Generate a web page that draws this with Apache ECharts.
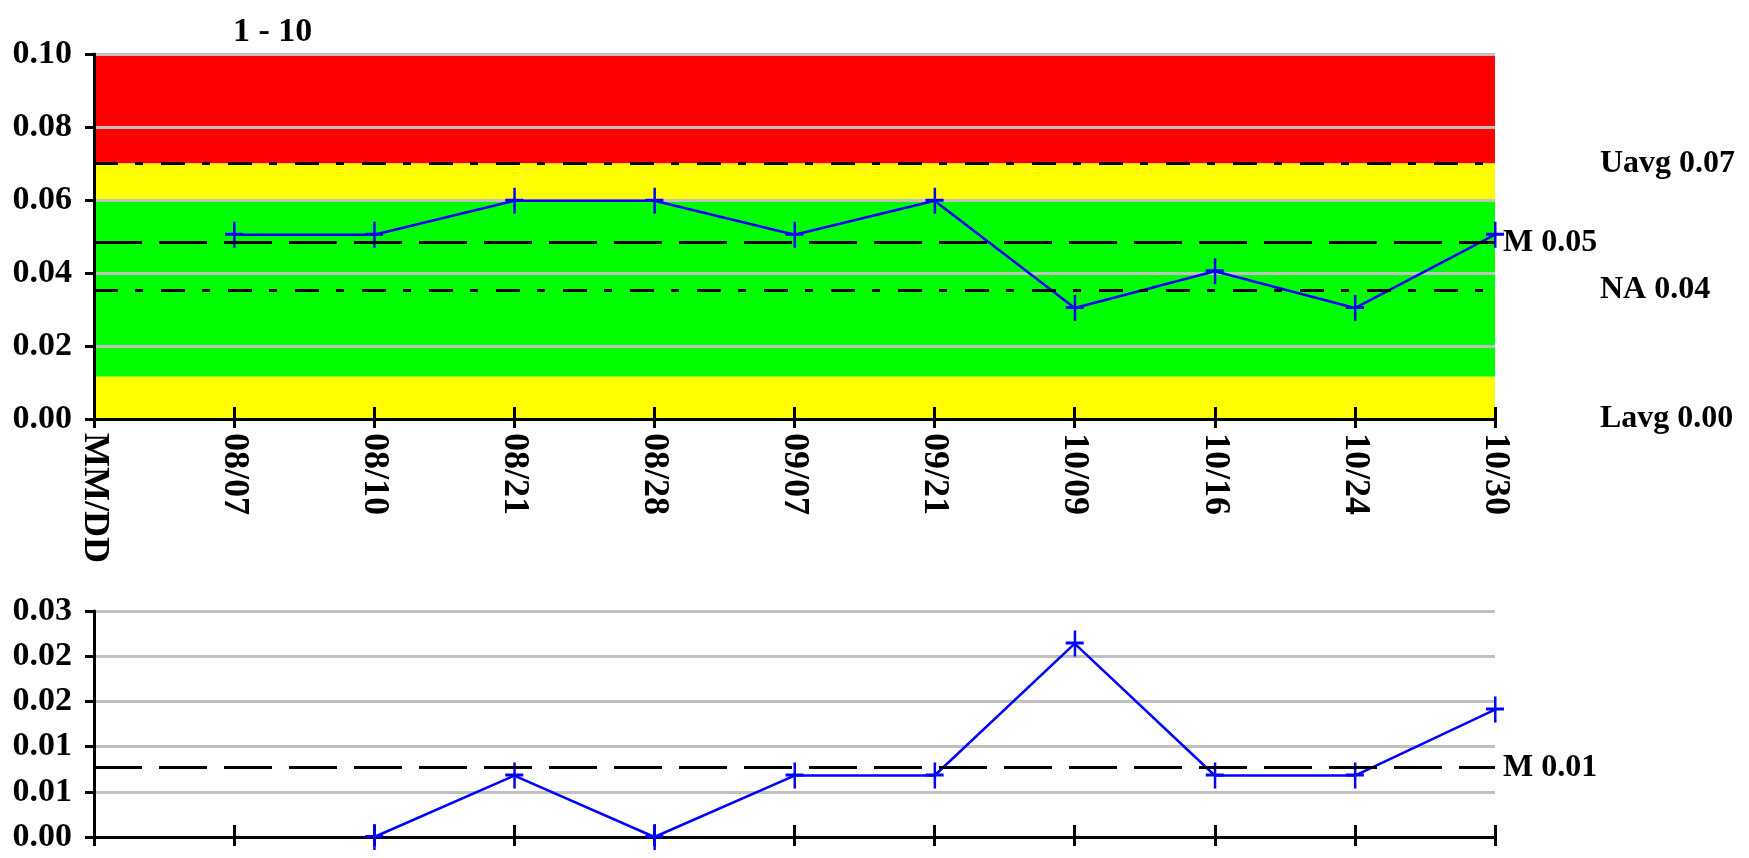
<!DOCTYPE html>
<html><head><meta charset="utf-8">
<script src="https://cdn.jsdelivr.net/npm/echarts@6/dist/echarts.min.js"></script>
<style>html,body{margin:0;padding:0;background:#fff}#c{width:1749px;height:858px}</style>
</head><body><div id="c"></div>
<script>
// ---- data ----
const categories = ['MM/DD','08/07','08/10','08/21','08/28','09/07','09/21','10/09','10/16','10/24','10/30'];
const avgValues = [null,0.0505,0.0505,0.0598,0.0598,0.0505,0.0598,0.0304,0.0405,0.0304,0.0505];
const rangeValues = [null,null,0,0.0068,0,0.0068,0.0068,0.0214,0.0068,0.0068,0.0141];
const topTickLabels = ['0.00','0.02','0.04','0.06','0.08','0.10'];
const bottomTickLabels = ['0.00','0.01','0.01','0.02','0.02','0.03'];
const bandRed = [0.07, 0.10];
const bandYellowHigh = [0.06, 0.07];
const bandGreen = [0.0116, 0.06];
const bandYellowLow = [0, 0.0116];
const uavgValue = 0.07, mTopValue = 0.0484, naValue = 0.0353, lavgValue = 0;
const mBottomValue = 0.0077;
const limitLabels = ['Uavg 0.07','M 0.05','NA 0.04','Lavg 0.00','M 0.01'];
const titleText = '1 - 10';

// ---- chart ----
const FONT = {fontFamily:'Liberation Serif', fontWeight:'bold', color:'#000'};
const BLACK3 = {color:'#000', width:3};
const DASH = [48,17];
const DASHDOT = [24,17,8,18];
const crossSymbol = 'path://M0,11h18v3h-18z M8,0h2.5v26h-2.5z';

function xAxes(grid, showLabels){
  return [
    {gridIndex:grid, type:'category', data:categories, boundaryGap:false,
     axisLine:{lineStyle:BLACK3}, axisTick:{inside:true, length:12, interval:0, lineStyle:BLACK3},
     axisLabel:{show:false}, splitLine:{show:false}},
    {gridIndex:grid, type:'category', data:categories, boundaryGap:false, position:'bottom',
     axisLine:{show:false}, axisTick:{length:9, interval:0, lineStyle:BLACK3},
     axisLabel:Object.assign({show:showLabels, rotate:-90, margin:14, interval:0, fontSize:36}, FONT),
     splitLine:{show:false}}
  ];
}
function yAxis(grid, max, interval, labels){
  return {gridIndex:grid, type:'value', min:0, max:max, interval:interval,
    axisLine:{show:true, lineStyle:BLACK3},
    axisTick:{show:true, length:9, lineStyle:BLACK3},
    axisLabel:Object.assign({margin:22, fontSize:34, formatter:v => labels[Math.round(v/interval)]}, FONT),
    splitLine:{show:true, lineStyle:{color:'#c0c0c0', width:3}}};
}
function limitLine(value, text, type, dist){
  return {yAxis:value, lineStyle:{type:type, color:'#000', width:3},
    label:Object.assign({formatter:text, position:'end', distance:dist, fontSize:32}, FONT)};
}
function band(range, color){
  return [{yAxis:range[0], itemStyle:{color:color}}, {yAxis:range[1]}];
}

const chart = echarts.init(document.getElementById('c'), null, {renderer:'canvas'});
chart.setOption({
  animation:false,
  backgroundColor:'#fff',
  title:{text:titleText, left:228, top:10, textStyle:Object.assign({fontSize:34}, FONT)},
  grid:[{left:94, right:254, top:54, height:365}, {left:94, right:254, top:611, height:226}],
  xAxis:[...xAxes(0, true), ...xAxes(1, false)],
  yAxis:[yAxis(0, 0.1, 0.02, topTickLabels), yAxis(1, 0.025, 0.005, bottomTickLabels)],
  series:[
    {type:'line', xAxisIndex:0, yAxisIndex:0, data:avgValues, clip:false,
     color:'#0000ff', lineStyle:{color:'#0000ff', width:2.5},
     symbol:crossSymbol, symbolSize:[18,26], itemStyle:{color:'#0000ff'},
     markArea:{silent:true, z:-1, data:[band(bandRed,'#ff0000'), band(bandYellowHigh,'#ffff00'), band(bandGreen,'#00ff00'), band(bandYellowLow,'#ffff00')]},
     markLine:{silent:true, symbol:'none', precision:6, data:[
       limitLine(uavgValue, limitLabels[0], DASHDOT, 105),
       limitLine(mTopValue, limitLabels[1], DASH, 8),
       limitLine(naValue, limitLabels[2], DASHDOT, 105),
       limitLine(lavgValue, limitLabels[3], DASHDOT, 105)
     ]}},
    {type:'line', xAxisIndex:2, yAxisIndex:1, data:rangeValues, clip:false,
     color:'#0000ff', lineStyle:{color:'#0000ff', width:2.5},
     symbol:crossSymbol, symbolSize:[18,26], itemStyle:{color:'#0000ff'},
     markLine:{silent:true, symbol:'none', precision:6, data:[limitLine(mBottomValue, limitLabels[4], DASH, 8)]}}
  ]
});
</script></body></html>
